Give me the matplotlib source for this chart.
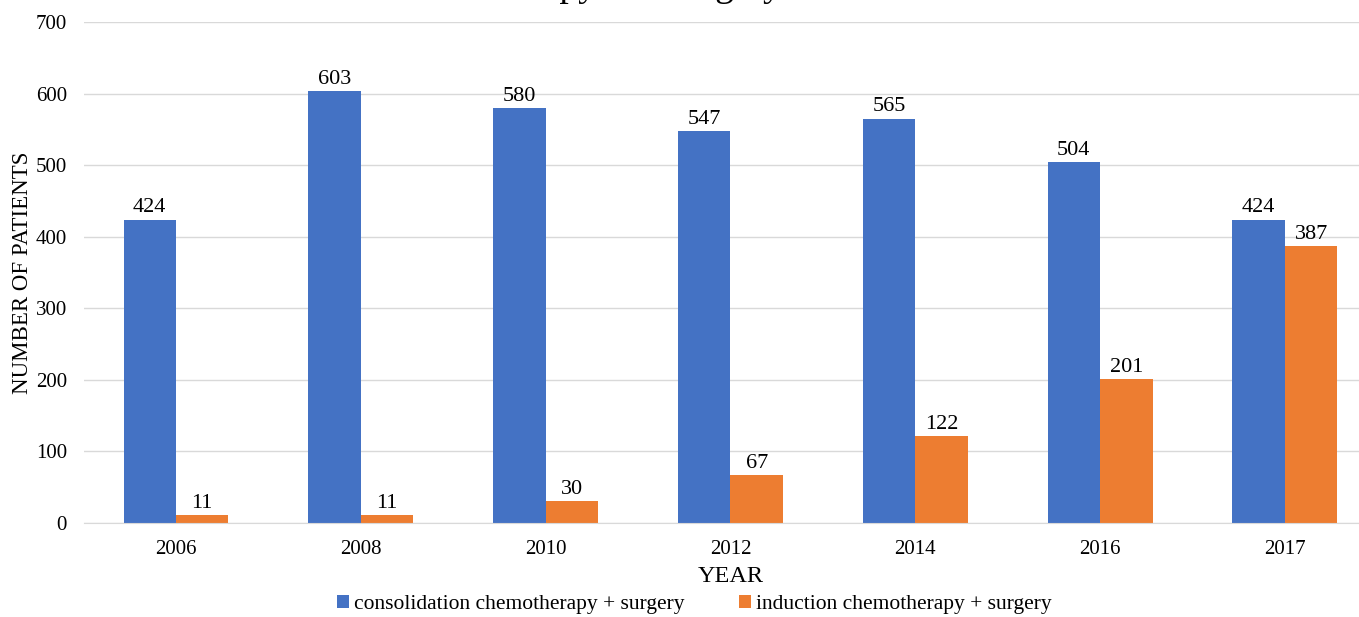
import numpy as np
import matplotlib.pyplot as plt

plt.rcParams['font.family'] = ['Liberation Serif', 'DejaVu Serif']

years = ['2006', '2008', '2010', '2012', '2014', '2016', '2017']
consolidation = [424, 603, 580, 547, 565, 504, 424]
induction = [11, 11, 30, 67, 122, 201, 387]

blue = '#4472C4'
orange = '#ED7D31'
grid_col = '#D9D9D9'

fig = plt.figure(figsize=(13.59, 6.17), dpi=100)
ax = fig.add_axes([0.0615, 0.1524, 0.952, 0.812])

x = np.arange(len(years))
w = 0.284
b1 = ax.bar(x - w / 2, consolidation, w, color=blue, label='consolidation chemotherapy + surgery', zorder=3)
b2 = ax.bar(x + w / 2, induction, w, color=orange, label='induction chemotherapy + surgery', zorder=3)

for bars, vals in ((b1, consolidation), (b2, induction)):
    for r, v in zip(bars, vals):
        ax.text(r.get_x() + r.get_width() / 2, v + 3, str(v), ha='center', va='bottom', fontsize=16)

ax.set_xlim(-0.5, len(years) - 0.5)
ax.set_ylim(0, 700)
ax.set_yticks(range(0, 701, 100))
ax.set_xticks(x)
ax.set_xticklabels(years)
ax.tick_params(axis='both', length=0, labelsize=15)
ax.tick_params(axis='y', pad=12)
ax.tick_params(axis='x', pad=12)
ax.grid(axis='y', color=grid_col, lw=1, zorder=0)
for s in ['top', 'right', 'left']:
    ax.spines[s].set_visible(False)
ax.spines['bottom'].set_color(grid_col)
ax.spines['bottom'].set_zorder(4)

ax.set_ylabel('NUMBER OF PATIENTS', fontsize=16.5, labelpad=2)
ax.set_xlabel('YEAR', fontsize=17.5, labelpad=5)

fig.legend(handles=[b1, b2], loc='center', bbox_to_anchor=(0.511, 0.02), ncol=2, frameon=False,
           fontsize=15.5, handlelength=0.55, handleheight=0.55, handletextpad=0.25, columnspacing=2.5,
           borderaxespad=0)

# title sits above the top edge, only the descenders reach into the figure
fig.text(782 / 1359, 1 + 4.5 / 617, 'Trends in chemotherapy and surgery',
         ha='right', va='baseline', fontsize=27)

fig.savefig('out.png', dpi=100)
